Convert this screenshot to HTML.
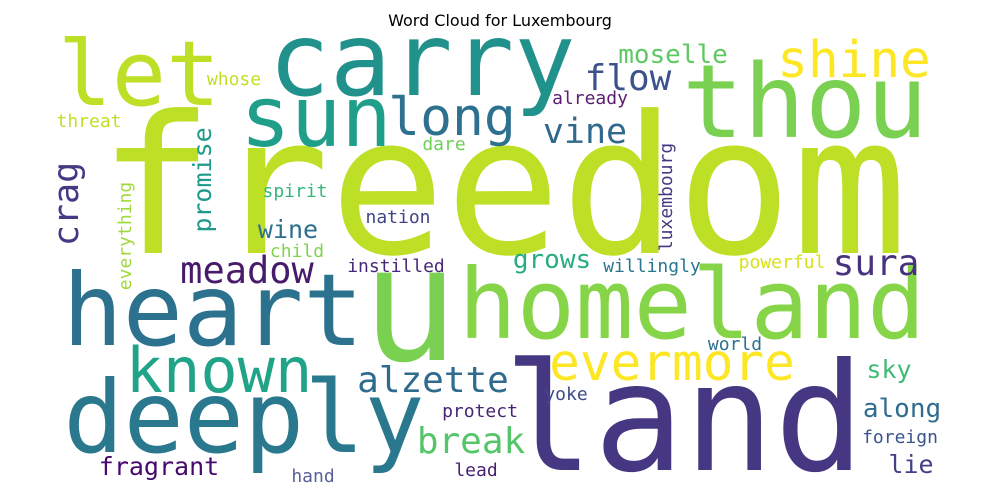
<!DOCTYPE html>
<html><head><meta charset="utf-8"><style>
html,body{margin:0;padding:0;background:#fff;}
svg{display:block;}
</style></head><body>
<svg id="cloud" width="1000" height="500" viewBox="0 0 1000 500" xmlns="http://www.w3.org/2000/svg">
<rect width="1000" height="500" fill="#fff"/>
<text x="500" y="26" text-anchor="middle" font-family="DejaVu Sans, Liberation Sans, sans-serif" font-size="16" fill="#000">Word Cloud for Luxembourg</text>
</svg>
<script>
const words = ["freedom","u","land","carry","thou","heart","deeply","homeland","let","sun","known","long","shine","evermore","crag","flow","vine","meadow","alzette","break","sura","wine","promise","moselle","grows","along","sky","fragrant","lie","already","luxembourg","whose","threat","dare","spirit","nation","child","everything","instilled","willingly","powerful","protect","yoke","world","foreign","hand","lead"];
const sizes = [192,160,150,102,102,100,100,97,90,84,62,53,51,51,35,36,35,37,36,36,36,25,25,26,26,26,25,25,25,18,18,18,18,18,18,18,18,18,18,18,18,18,18,18,18,18,18];
const colors = ["#bddf26","#7ad151","#453781","#21918c","#7ad151","#2c728e","#2a788e","#86d549","#bddf26","#1f9e89","#20a386","#2d718e","#fde725","#fde725","#443983","#3b528b","#31688e","#481a6c","#2f6b8e","#54c568","#46327e","#2d708e","#1f9a8a","#5ec962","#27ad81","#2f6c8e","#3dbc74","#46086e","#424086","#5a1d6f","#443983","#c2df23","#c2df23","#6ece58","#35b779","#414487","#7fd34e","#a0da39","#482878","#2a768e","#d8e219","#482475","#3e4c8a","#2d708e","#3a548c","#5a5f9a","#481f70"];
const cx = [503,410,684,422,805,213,244,692,139,316,219,452,854,672,78,628,585,247,433,471,876,288,211,673,552,902,889,159,911,590,672,234,89,444,295,398,297,131,396,652,782,480,566,735,900,313,476];
const by = [253,360,470,95,137,345,452,338,105,146,392,135,77,380,204,90,143,283,392,453,275,238,180,63,268,417,378,475,473,104,197,85,127,150,197,223,257,236,272,272,268,417,400,350,443,482,476];
const rot = [0,0,0,0,0,0,0,0,0,0,0,0,0,0,1,0,0,0,0,0,0,0,1,0,0,0,0,0,0,0,1,0,0,0,0,0,0,1,0,0,0,0,0,0,0,0,0];
const svg = document.getElementById('cloud');
const NS = 'http://www.w3.org/2000/svg';
for (let i = 0; i < words.length; i++) {
  const t = document.createElementNS(NS, 'text');
  t.textContent = words[i];
  t.setAttribute('font-family', 'DejaVu Sans Mono, Liberation Mono, monospace');
  t.setAttribute('font-size', sizes[i]);
  t.setAttribute('fill', colors[i]);
  t.setAttribute('text-anchor', 'middle');
  if (rot[i]) {
    t.setAttribute('x', 0);
    t.setAttribute('y', 0);
    t.setAttribute('transform', 'translate(' + cx[i] + ',' + by[i] + ') rotate(-90)');
  } else {
    t.setAttribute('x', cx[i]);
    t.setAttribute('y', by[i]);
  }
  
  
  svg.appendChild(t);
}
</script>
</body></html>
